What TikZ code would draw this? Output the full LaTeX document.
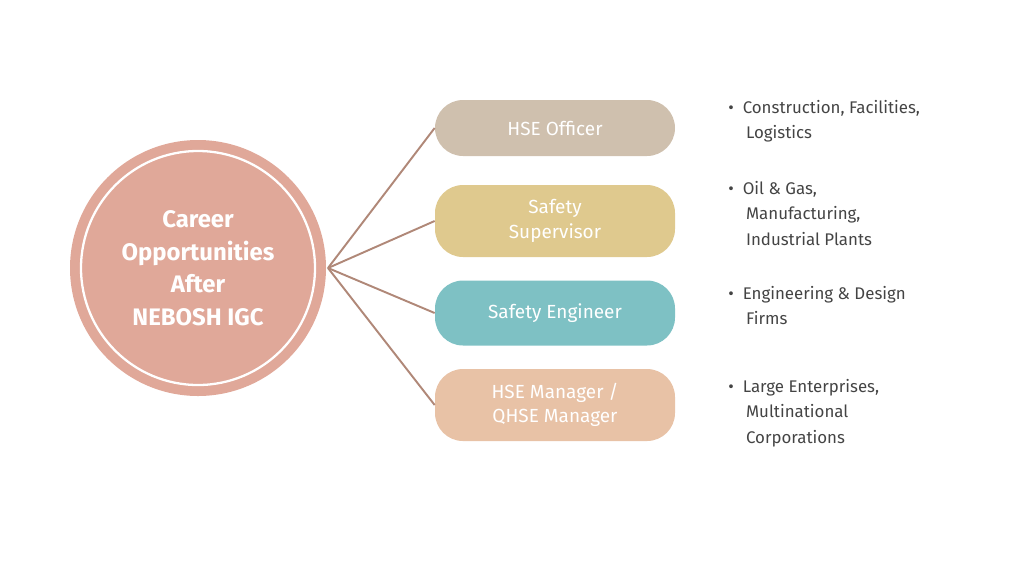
\documentclass[tikz,border=0pt]{standalone}
\usepackage{fontspec}
\setmainfont{Fira Sans}
\begin{document}
\begin{tikzpicture}[x=0.02cm,y=-0.02cm,
  role/.style={rounded corners=28*0.02cm,minimum width=240*0.02cm,text=white,align=center,font=\fontsize{10.8}{14}\selectfont,inner sep=0pt},
  link/.style={draw=linkc,line width=1.1pt},
  note/.style={anchor=north west,align=left,text=textc,font=\fontsize{9.6}{14.5}\selectfont,inner sep=0pt}]
\definecolor{circc}{HTML}{E0A899}
\definecolor{linkc}{HTML}{B08878}
\definecolor{textc}{HTML}{444444}
\definecolor{b1}{HTML}{CFC0AE}
\definecolor{b2}{HTML}{DFC98E}
\definecolor{b3}{HTML}{7EC1C4}
\definecolor{b4}{HTML}{E8C2A6}
\useasboundingbox (0,0) rectangle (1024,576);
\node[circle,fill=circc,minimum size=256*0.02cm,inner sep=0pt] (c) at (198,268) {};
\draw[white,line width=1.3pt] (198,268) circle[radius=117];
\node[align=center,text=white,font=\bfseries\fontsize{13.6}{18.5}\selectfont] at (198,268) {Career\\Opportunities\\After\\NEBOSH IGC};
\coordinate (hub) at (328,268);
\node[role,fill=b1,minimum height=56*0.02cm] (r1) at (555,128) {HSE Officer};
\node[role,fill=b2,minimum height=72*0.02cm] (r2) at (555,221) {Safety\\Supervisor};
\node[role,fill=b3,minimum height=65*0.02cm] (r3) at (555,313) {Safety Engineer};
\node[role,fill=b4,minimum height=72*0.02cm] (r4) at (555,405) {HSE Manager /\\QHSE Manager};
\foreach \r in {r1,r2,r3,r4} \draw[link] (hub) -- (\r.west);
\node[note] (n1) at (728,100) {•\ \ Construction, Facilities,\\\hspace{1.05em}Logistics};
\node[note] (n2) at (728,181) {•\ \ Oil \& Gas,\\\hspace{1.05em}Manufacturing,\\\hspace{1.05em}Industrial Plants};
\node[note] (n3) at (728,286) {•\ \ Engineering \& Design\\\hspace{1.05em}Firms};
\node[note] (n4) at (728,379) {•\ \ Large Enterprises,\\\hspace{1.05em}Multinational\\\hspace{1.05em}Corporations};
\end{tikzpicture}
\end{document}
